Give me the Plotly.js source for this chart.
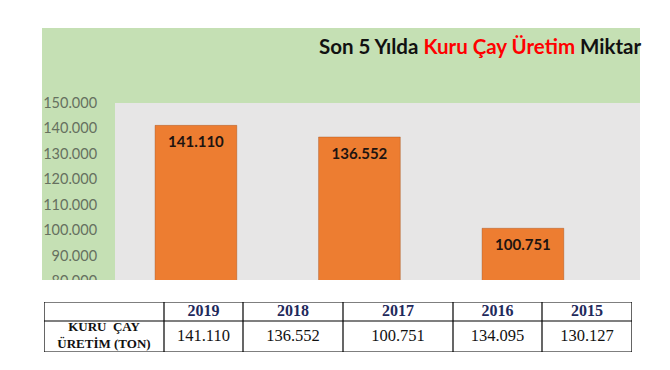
<!DOCTYPE html>
<html>
<head>
<meta charset="utf-8">
<script src="https://cdn.plot.ly/plotly-3.0.1.min.js"></script>
<style>
  html, body { margin: 0; padding: 0; background: #ffffff; }
  #chart { width: 670px; height: 370px; }
</style>
</head>
<body>
<div id="chart"></div>
<script>
// ---- data ----
const years = ['2019', '2018', '2017', '2016', '2015'];
const production = [141110, 136552, 100751, 134095, 130127];
const yTickValues = [80000, 90000, 100000, 110000, 120000, 130000, 140000, 150000];
const titleBlack1 = 'Son 5 Yılda ';
const titleRed = 'Kuru Çay Üretim';
const titleBlack2 = ' Miktar';
const rowLabel = 'KURU  ÇAY<br>ÜRETİM (TON)';
const visibleBars = 3; // bars that lie inside the cropped picture

// ---- helpers / styles ----
const W = 670, H = 370;
const px = v => v / W;
const py = v => 1 - v / H;
const fmt = n => String(n).replace(/\B(?=(\d{3})+(?!\d))/g, '.');
const labelOffset = 7000;              // bar label sits ~18px below bar top
const colWidths = [120, 79, 100, 110, 89, 90];
const headerH = 19, rowH = 31;
const tableW = colWidths.reduce((a, b) => a + b, 0);
const tableH = headerH + rowH;
const colEdges = colWidths.reduce((acc, w) => { acc.push(acc[acc.length - 1] + w); return acc; }, [0]);
const colCenters = colWidths.map((w, i) => colEdges[i] + w / 2);
const serif = 'Liberation Serif, Times New Roman, serif';

const barTrace = {
  type: 'bar',
  x: years,
  y: production,
  width: 0.5,
  marker: { color: '#ed7d31', line: { color: 'rgba(150,70,20,0.35)', width: 1 } },
  hoverinfo: 'skip',
  xaxis: 'x', yaxis: 'y'
};

const labelTrace = {
  type: 'scatter',
  mode: 'text',
  x: years.slice(0, visibleBars),
  y: production.slice(0, visibleBars).map(v => v - labelOffset),
  text: production.slice(0, visibleBars).map(v => '<b>' + fmt(v) + '</b>'),
  textposition: 'middle center',
  textfont: { family: 'Lato, sans-serif', size: 15, color: '#1e1410' },
  cliponaxis: true,
  hoverinfo: 'skip',
  xaxis: 'x', yaxis: 'y'
};

// ---- table drawn on its own axes ----
const headerTrace = {
  type: 'scatter', mode: 'text',
  x: colCenters.slice(1),
  y: years.map(() => rowH + headerH / 2),
  text: years.map(y => '<b>' + y + '</b>'),
  textposition: 'middle center',
  textfont: { family: serif, size: 16, color: '#1f2a5c' },
  hoverinfo: 'skip', cliponaxis: false,
  xaxis: 'x2', yaxis: 'y2'
};
const valueTrace = {
  type: 'scatter', mode: 'text',
  x: colCenters.slice(1),
  y: production.map(() => rowH / 2),
  text: production.map(fmt),
  textposition: 'middle center',
  textfont: { family: serif, size: 16.5, color: '#111111' },
  hoverinfo: 'skip', cliponaxis: false,
  xaxis: 'x2', yaxis: 'y2'
};
const rowLabelTrace = {
  type: 'scatter', mode: 'text',
  x: [colCenters[0]],
  y: [rowH / 2],
  text: ['<b>' + rowLabel + '</b>'],
  textposition: 'middle center',
  textfont: { family: serif, size: 13, color: '#111111' },
  hoverinfo: 'skip', cliponaxis: false,
  xaxis: 'x2', yaxis: 'y2'
};

const tableLine = { color: '#000000', width: 1.2 };
const tableShapes = [
  { type: 'rect', xref: 'x2', yref: 'y2', x0: 0, x1: tableW, y0: 0, y1: tableH, line: tableLine, fillcolor: 'rgba(0,0,0,0)' },
  { type: 'line', xref: 'x2', yref: 'y2', x0: 0, x1: tableW, y0: rowH, y1: rowH, line: tableLine }
].concat(colEdges.slice(1, -1).map(e => (
  { type: 'line', xref: 'x2', yref: 'y2', x0: e, x1: e, y0: 0, y1: tableH, line: tableLine }
)));

const hiddenAxis = {
  showticklabels: false, showgrid: false, zeroline: false, showline: false,
  ticks: '', fixedrange: true
};

const layout = {
  width: W, height: H,
  margin: { l: 0, r: 0, t: 0, b: 0 },
  paper_bgcolor: '#ffffff',
  plot_bgcolor: 'rgba(0,0,0,0)',
  separators: ',.',
  showlegend: false,
  xaxis: Object.assign({}, hiddenAxis, {
    domain: [px(115), px(640)],
    type: 'category',
    categoryorder: 'array',
    categoryarray: years,
    range: [-0.495, 2.716],
    anchor: 'y'
  }),
  yaxis: {
    domain: [py(283.75), py(102.7)],
    range: [79000, 150000],
    tickvals: yTickValues,
    tickformat: ',.0f',
    showgrid: false,
    zeroline: false,
    showline: false,
    ticks: 'outside',
    ticklen: 14,
    tickcolor: 'rgba(0,0,0,0)',
    tickfont: { family: 'Lato, sans-serif', size: 14.5, color: '#66705f' },
    fixedrange: true,
    anchor: 'x'
  },
  xaxis2: Object.assign({}, hiddenAxis, {
    domain: [px(44), px(632)], range: [0, tableW], anchor: 'y2'
  }),
  yaxis2: Object.assign({}, hiddenAxis, {
    domain: [py(352), py(302)], range: [0, tableH], anchor: 'x2'
  }),
  shapes: [
    { type: 'rect', xref: 'paper', yref: 'paper', layer: 'below',
      x0: px(42), x1: px(640), y0: py(280), y1: py(28),
      fillcolor: '#c5e0b4', line: { width: 0 } },
    { type: 'rect', xref: 'paper', yref: 'paper', layer: 'below',
      x0: px(115), x1: px(640), y0: py(280), y1: py(103),
      fillcolor: '#e7e6e6', line: { width: 0 } },
    { type: 'rect', xref: 'paper', yref: 'paper', layer: 'above',
      x0: 0, x1: 1, y0: py(299), y1: py(280),
      fillcolor: '#ffffff', line: { width: 0 } }
  ].concat(tableShapes),
  annotations: [
    { xref: 'paper', yref: 'paper', x: px(317), y: py(46),
      xanchor: 'left', yanchor: 'middle', showarrow: false,
      text: '<b>' + titleBlack1 + '<span style="color:#ff0000">' + titleRed + '</span>' + titleBlack2 + '</b>',
      font: { family: 'Lato, sans-serif', size: 20.5, color: '#111111' } }
  ]
};

Plotly.newPlot('chart', [barTrace, labelTrace, headerTrace, valueTrace, rowLabelTrace], layout,
  { displayModeBar: false, staticPlot: true });
</script>
</body>
</html>
